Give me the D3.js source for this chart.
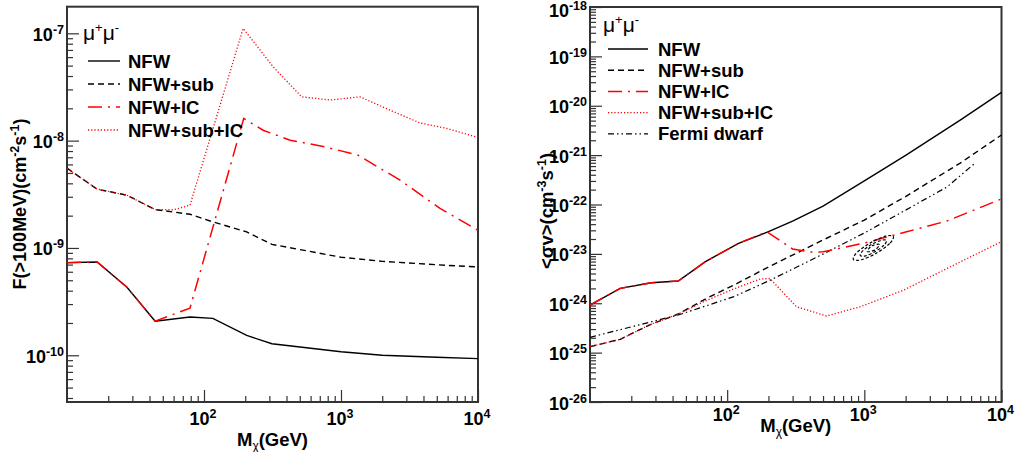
<!DOCTYPE html>
<html>
<head>
<meta charset="utf-8">
<script src="https://cdn.jsdelivr.net/npm/d3@7"></script>
<style>
  body { margin: 0; background: #fff; }
  text { font-family: "Liberation Sans", Arial, Helvetica, sans-serif; font-weight: bold; fill: #000; }
</style>
</head>
<body>
<script>
// ---- data ----
// left: integrated flux F(>100MeV) vs mass, [M (GeV), F]
const fluxNFW = [[10,7.3e-10],[16.6,7.4e-10],[27.4,4.3e-10],[44,2.08e-10],[79,2.27e-10],[116,2.21e-10],[205,1.53e-10],[313,1.28e-10],[1000,1.08e-10],[2000,1.0e-10],[5000,9.6e-11],[10000,9.3e-11]];
const fluxNFWsub = [[10,5.54e-9],[16.6,3.53e-9],[27.4,3.1e-9],[44,2.28e-9],[79,2.06e-9],[116,1.75e-9],[205,1.41e-9],[313,1.08e-9],[1000,8.2e-10],[2000,7.5e-10],[5000,6.97e-10],[10000,6.65e-10]];
const fluxNFWIC = [[10,7.3e-10],[16.6,7.4e-10],[27.4,4.3e-10],[44,2.08e-10],[79,2.75e-10],[195,1.61e-8],[270,1.25e-8],[425,1.01e-8],[764,8.75e-9],[1330,7.33e-9],[2700,4.28e-9],[5280,2.34e-9],[10000,1.46e-9]];
const fluxNFWsubIC = [[10,5.54e-9],[16.6,3.53e-9],[27.4,3.1e-9],[44,2.28e-9],[60,2.27e-9],[79,2.5e-9],[193,1.11e-7],[320,4.87e-8],[516,2.56e-8],[832,2.39e-8],[1377,2.56e-8],[2282,1.92e-8],[3774,1.46e-8],[5912,1.3e-8],[10000,1.07e-8]];

// right: <sigma v> limits vs mass, [M (GeV), sigma v]
const svNFW = [[10,9.2e-25],[16.6,2.0e-24],[28,2.6e-24],[44,2.82e-24],[69,6.9e-24],[121,1.64e-23],[200,2.81e-23],[300,4.6e-23],[500,9.3e-23],[1000,3.0e-22],[2000,9.9e-22],[5000,5.1e-21],[10000,1.87e-20]];
const svNFWsub = [[10,1.32e-25],[16.6,1.86e-25],[27,3.62e-25],[44,6.05e-25],[71,1.26e-24],[112,2.34e-24],[200,5.42e-24],[500,1.91e-23],[1000,4.85e-23],[2000,1.45e-22],[5000,6.9e-22],[10000,2.56e-21]];
const svNFWIC = [[10,9.2e-25],[16.6,2.0e-24],[28,2.6e-24],[44,2.82e-24],[69,6.9e-24],[121,1.64e-23],[195,2.81e-23],[300,1.26e-23],[400,1.09e-23],[500,1.1e-23],[1000,1.66e-23],[2000,2.77e-23],[4000,4.63e-23],[10000,1.3e-22]];
const svNFWsubIC = [[10,1.32e-25],[16.6,1.86e-25],[27,3.62e-25],[44,6.05e-25],[71,1.15e-24],[112,1.95e-24],[174,3.1e-24],[205,3.17e-24],[320,8.5e-25],[530,5.52e-25],[935,8.5e-25],[1940,1.85e-24],[3800,4.71e-24],[10000,1.77e-23]];
const svDwarf = [[10,2.04e-25],[44,5.78e-25],[112,1.36e-24],[200,2.82e-24],[500,9.9e-24],[1000,2.65e-23],[2000,7.7e-23],[4000,2.26e-22],[6300,6.6e-22]];

// small closed contours near 1 TeV (right panel)
const contourOuter = [[1626,2.25e-23],[1528,1.62e-23],[1224,1.03e-23],[951,7.6e-24],[832,7.7e-24],[885,1.07e-23],[1107,1.67e-23],[1422,2.28e-23]];
const contourMid = [[1449,1.87e-23],[1390,1.5e-23],[1205,1.12e-23],[1021,9.14e-24],[935,9.27e-24],[973,1.15e-23],[1125,1.55e-23],[1327,1.88e-23]];
const contourInner = [[1288,1.55e-23],[1189,1.19e-23],[1050,1.12e-23],[1138,1.46e-23]];

const legendLeft = ["NFW", "NFW+sub", "NFW+IC", "NFW+sub+IC"];
const legendRight = ["NFW", "NFW+sub", "NFW+IC", "NFW+sub+IC", "Fermi dwarf"];
const xTickExps = [2, 3, 4];
const yTickExpsLeft = [-10, -9, -8, -7];
const yTickExpsRight = [-26, -25, -24, -23, -22, -21, -20, -19, -18];

// line styles
const styles = {
  "NFW":         {stroke: "#000", dash: null, w: 1.4},
  "NFW+sub":     {stroke: "#000", dash: "6,4", w: 1.4},
  "NFW+IC":      {stroke: "#f00", dash: "14,6,2,6", w: 1.5},
  "NFW+sub+IC":  {stroke: "#f00", dash: "1.2,2", w: 1.3},
  "Fermi dwarf": {stroke: "#000", dash: "6,3,1.5,3,1.5,3", w: 1.2}
};

const svg = d3.select("body").append("svg")
  .attr("width", 1016).attr("height", 452);

function minorTicks(domain) {
  const out = [];
  const lo = Math.floor(Math.log10(domain[0])), hi = Math.ceil(Math.log10(domain[1]));
  for (let d = lo; d <= hi; d++) {
    for (let k = 2; k <= 9; k++) {
      const v = k * Math.pow(10, d);
      if (v > domain[0] && v < domain[1]) out.push(v);
    }
  }
  return out;
}

// "10^exp" label
function powLabel(g, x, y, exp, anchor) {
  const t = g.append("text").attr("x", x).attr("y", y)
    .attr("text-anchor", anchor).style("font-size", "18px");
  t.append("tspan").text("10");
  t.append("tspan").attr("dy", -7).style("font-size", "12.5px").text(exp);
  return t;
}

function drawPanel(p) {
  const g = svg.append("g");
  const x = d3.scaleLog().domain([10, 1e4]).range([p.x0, p.x1]);
  const y = d3.scaleLog().domain(p.yDomain).range([p.y0, p.y1]);

  // ticks (inward)
  g.append("g").attr("transform", `translate(0,${p.y0})`)
    .call(d3.axisBottom(x).tickValues(minorTicks([10, 1e4])).tickSize(-6).tickFormat(""))
    .call(s => s.select(".domain").remove());
  g.append("g").attr("transform", `translate(0,${p.y0})`)
    .call(d3.axisBottom(x).tickValues(xTickExps.map(e => Math.pow(10, e))).tickSize(-12).tickFormat(""))
    .call(s => s.select(".domain").remove());
  g.append("g").attr("transform", `translate(${p.x0},0)`)
    .call(d3.axisLeft(y).tickValues(minorTicks(p.yDomain)).tickSize(-6).tickFormat(""))
    .call(s => s.select(".domain").remove());
  g.append("g").attr("transform", `translate(${p.x0},0)`)
    .call(d3.axisLeft(y).tickValues(p.yExps.map(e => Math.pow(10, e))).tickSize(-12).tickFormat(""))
    .call(s => s.select(".domain").remove());
  g.selectAll(".tick line").attr("stroke", "#333").attr("stroke-width", 1.2);

  // frame
  g.append("rect")
    .attr("x", p.x0).attr("y", p.y1)
    .attr("width", p.x1 - p.x0).attr("height", p.y0 - p.y1)
    .attr("fill", "none").attr("stroke", "#333").attr("stroke-width", 2);

  // tick labels
  xTickExps.forEach(e => powLabel(g, x(Math.pow(10, e)) - 1, p.xLabelY, String(e), "middle"));
  p.yExps.forEach(e => powLabel(g, p.x0 - 3, Math.max(17, y(Math.pow(10, e)) + 7.5), String(e), "end"));

  // axis titles
  const xt = g.append("text").attr("x", (p.x0 + p.x1) / 2).attr("y", p.xTitleY)
    .attr("text-anchor", "middle").style("font-size", "18.5px");
  xt.append("tspan").text("M");
  xt.append("tspan").attr("dy", 4).style("font-size", "12px").style("font-weight", "normal").text("χ");
  xt.append("tspan").attr("dy", -4).text("(GeV)");

  const yt = g.append("text")
    .attr("transform", `translate(${p.yTitleX},${p.yTitleY}) rotate(-90)`)
    .attr("text-anchor", "middle").style("font-size", p.yTitleSize);
  yt.append("tspan").text(p.yTitle[0]);
  yt.append("tspan").attr("dy", -7).style("font-size", "12.5px").text(p.yTitle[1]);
  yt.append("tspan").attr("dy", 7).text("s");
  yt.append("tspan").attr("dy", -7).style("font-size", "12.5px").text("-1");
  yt.append("tspan").attr("dy", 7).text(")");

  // curves
  const line = d3.line().x(d => x(d[0])).y(d => y(d[1]));
  p.series.forEach(([name, data]) => {
    const s = styles[name];
    g.append("path").datum(data)
      .attr("d", line)
      .attr("fill", "none")
      .attr("stroke", s.stroke)
      .attr("stroke-width", s.w)
      .attr("stroke-dasharray", s.dash);
  });

  // contours
  const closed = d3.line().x(d => x(d[0])).y(d => y(d[1])).curve(d3.curveCardinalClosed);
  (p.contours || []).forEach(c => {
    g.append("path").datum(c).attr("d", closed)
      .attr("fill", "none").attr("stroke", "#000")
      .attr("stroke-width", 1.2).attr("stroke-dasharray", "3,2");
  });

  // legend
  const lg = g.append("g");
  const mu = lg.append("text").attr("x", p.legX - 5).attr("y", p.legMuY)
    .style("font-size", "21px").style("font-weight", "normal");
  mu.append("tspan").text("μ");
  mu.append("tspan").attr("dy", -8).style("font-size", "13px").text("+");
  mu.append("tspan").attr("dy", 8).text("μ");
  mu.append("tspan").attr("dy", -8).style("font-size", "13px").text("-");

  p.legend.forEach((name, i) => {
    const s = styles[name];
    const ly = p.legY0 + i * p.legStep;
    lg.append("line")
      .attr("x1", p.legX).attr("x2", p.legX + p.legLen)
      .attr("y1", ly).attr("y2", ly)
      .attr("stroke", s.stroke).attr("stroke-width", s.w)
      .attr("stroke-dasharray", s.dash);
    lg.append("text").attr("x", p.legTextX).attr("y", ly + 6.5)
      .style("font-size", "18.5px").text(name);
  });
}

drawPanel({
  x0: 67, x1: 478, y0: 402, y1: 6.7,
  yDomain: [3.67e-11, 1.77e-7], yExps: yTickExpsLeft,
  xLabelY: 425, xTitleY: 446,
  yTitle: ["F(>100MeV)(cm", "-2"], yTitleX: 26, yTitleY: 204, yTitleSize: "18px",
  series: [["NFW", fluxNFW], ["NFW+sub", fluxNFWsub], ["NFW+IC", fluxNFWIC], ["NFW+sub+IC", fluxNFWsubIC]],
  legend: legendLeft, legX: 88, legLen: 32, legTextX: 128, legY0: 61, legStep: 23, legMuY: 40
});

drawPanel({
  x0: 590, x1: 1001.5, y0: 402, y1: 7,
  yDomain: [1e-26, 1e-18], yExps: yTickExpsRight,
  xLabelY: 421, xTitleY: 432,
  yTitle: ["<σv>(cm", "-3"], yTitleX: 553, yTitleY: 211, yTitleSize: "18.5px",
  series: [["NFW", svNFW], ["NFW+sub", svNFWsub], ["Fermi dwarf", svDwarf], ["NFW+IC", svNFWIC], ["NFW+sub+IC", svNFWsubIC]],
  contours: [contourOuter, contourMid, contourInner],
  legend: legendRight, legX: 608, legLen: 40, legTextX: 658, legY0: 49, legStep: 21.2, legMuY: 32
});
</script>
</body>
</html>
